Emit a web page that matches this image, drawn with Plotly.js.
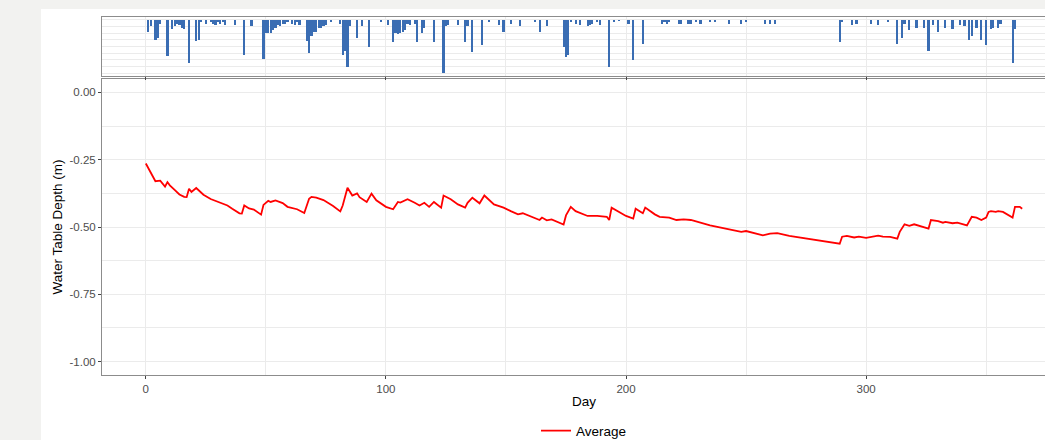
<!DOCTYPE html>
<html>
<head>
<meta charset="utf-8">
<script src="https://cdn.plot.ly/plotly-3.0.1.min.js"></script>
<style>
  html, body { margin: 0; padding: 0; width: 1045px; height: 440px; overflow: hidden; background: #f2f2f0; }
  #chart { position: absolute; left: 41px; top: 9px; width: 1040px; height: 470px; background: #ffffff; }
</style>
</head>
<body>
<div id="chart"></div>
<script>
// ---- Data ----
// Daily rainfall bars (top panel, hanging from the top)
const rainDays = [1,2,4,5,6,9,11,12,13,14,15,16,18,21,22,23,25,27,28,29,30,31,32,33,37,41,44,49,50,51,52,53,54,55,56,57,58,59,61,62,63,64,67,68,69,70,71,72,73,74,75,77,81,82,83,84,85,88,90,93,98,101,103,104,105,106,107,108,109,110,112,113,115,116,120,124,125,126,130,133,134,136,140,143,147,149,152,156,162,164,167,174,175,176,177,179,181,184,185,186,188,189,193,195,197,201,203,207,215,216,217,218,222,223,226,227,229,231,235,237,243,248,250,258,260,262,289,290,294,296,302,305,309,313,315,316,318,321,324,326,328,330,333,336,339,341,343,344,346,348,350,352,353,355,356,361,362];
const rainMm   = [9,5,15,14,3,27,7,5,3,4,6,7,32,16,15,2,3,2,3,4,2,3,2,4,4,26,5,29,10,10,10,8,6,4,5,3,3,2,3,4,2,4,16,25,12,9,9,6,6,5,4,2,3,26,23,35,5,14,5,20,2,4,17,10,11,10,9,8,3,4,3,17,10,6,17,40,5,4,4,17,5,24,19,2,4,9,3,5,2,9,5,20,28,26,2,3,4,5,4,3,2,4,35,2,1,3,30,18,3,2,3,2,3,3,3,3,2,3,2,2,3,3,2,3,3,3,17,2,4,3,3,4,2,18,14,3,8,6,6,23,4,9,6,7,4,5,15,12,6,15,19,7,6,6,3,32,7];

// Average water table depth (main panel)
const depthDays = [0,2,4,6,8,9,10,12,14,16,17,18,19,21,24,27,31,34,36,39,40,41,43,45,48,49,51,52,54,57,59,63,66,68,69,71,74,78,81,82,84,86,88,89,92,94,96,100,103,105,106,109,112,114,116,118,120,123,124,127,130,133,134,136,139,141,145,148,149,152,155,157,161,164,165,167,169,174,175,177,179,184,188,192,193,194,200,203,204,207,208,212,214,218,221,224,227,230,235,243,248,250,257,260,263,268,289,290,292,295,297,300,302,305,307,310,313,314,316,318,320,326,327,330,332,333,336,338,342,344,346,348,350,351,352,354,355,357,361,362,364,365];
const depthM   = [-0.264,-0.300,-0.330,-0.328,-0.350,-0.333,-0.345,-0.362,-0.379,-0.388,-0.389,-0.358,-0.370,-0.355,-0.380,-0.396,-0.409,-0.420,-0.432,-0.449,-0.450,-0.420,-0.431,-0.435,-0.454,-0.418,-0.403,-0.407,-0.401,-0.411,-0.425,-0.434,-0.448,-0.395,-0.388,-0.391,-0.400,-0.422,-0.442,-0.420,-0.354,-0.383,-0.375,-0.389,-0.407,-0.376,-0.401,-0.425,-0.434,-0.407,-0.409,-0.397,-0.410,-0.420,-0.410,-0.425,-0.407,-0.428,-0.383,-0.397,-0.416,-0.428,-0.410,-0.391,-0.412,-0.383,-0.416,-0.425,-0.428,-0.441,-0.453,-0.449,-0.463,-0.474,-0.465,-0.475,-0.472,-0.491,-0.457,-0.425,-0.441,-0.459,-0.459,-0.462,-0.474,-0.428,-0.459,-0.469,-0.432,-0.449,-0.428,-0.453,-0.462,-0.465,-0.474,-0.472,-0.474,-0.481,-0.494,-0.509,-0.518,-0.515,-0.531,-0.525,-0.523,-0.533,-0.562,-0.536,-0.533,-0.539,-0.536,-0.540,-0.537,-0.532,-0.536,-0.537,-0.543,-0.518,-0.490,-0.496,-0.490,-0.506,-0.474,-0.478,-0.484,-0.481,-0.486,-0.484,-0.494,-0.462,-0.465,-0.474,-0.465,-0.444,-0.441,-0.444,-0.441,-0.444,-0.465,-0.425,-0.425,-0.432];

// Tick labels
const xTickVals = [0, 100, 200, 300];
const yTickVals = [0, -0.25, -0.5, -0.75, -1];
const yTickText = ['0.00', '-0.25', '-0.50', '-0.75', '-1.00'];

// ---- Styling ----
const FONT = 'Liberation Sans, Arial, sans-serif';
const GRID = '#ebebeb';
const BORDER = '#8c8c8c';
const TICKTXT = 'rgb(77,77,77)';

const traces = [
  {
    type: 'bar', x: rainDays, y: rainMm, xaxis: 'x2', yaxis: 'y2',
    marker: { color: '#3a6db3', line: { width: 0 } }, width: 0.9,
    showlegend: false, hoverinfo: 'skip'
  },
  {
    type: 'scatter', mode: 'lines', x: depthDays, y: depthM,
    line: { color: '#ff0000', width: 1.8 }, name: 'Average'
  }
];

const xRange = [-18.25, 383.25];

const layout = {
  width: 1040, height: 470,
  margin: { l: 61, r: 15, t: 8, b: 104 },
  paper_bgcolor: '#ffffff', plot_bgcolor: '#ffffff',
  font: { family: FONT, color: '#000000' },
  bargap: 0,
  xaxis: {
    domain: [0, 1], anchor: 'y', range: xRange,
    tickvals: xTickVals, ticks: 'outside', ticklen: 3, tickwidth: 1, tickcolor: '#444',
    tickfont: { size: 11.5, color: TICKTXT, family: FONT },
    showgrid: true, gridcolor: GRID, gridwidth: 1,
    minor: { dtick: 50, tick0: 0, showgrid: true, gridcolor: GRID, gridwidth: 1, ticks: '' },
    zeroline: false, showline: true, mirror: true, linecolor: BORDER, linewidth: 1,
    title: { text: 'Day', font: { size: 13.5, color: '#000000', family: FONT }, standoff: 2 },
    automargin: false
  },
  yaxis: {
    domain: [0, 0.8268], anchor: 'x', range: [-1.05, 0.05],
    tickvals: yTickVals, ticktext: yTickText, ticks: 'outside', ticklen: 3, tickwidth: 1, tickcolor: '#444',
    tickfont: { size: 11.5, color: TICKTXT, family: FONT },
    showgrid: true, gridcolor: GRID, gridwidth: 1,
    minor: { dtick: 0.125, tick0: 0, showgrid: true, gridcolor: GRID, gridwidth: 1, ticks: '' },
    zeroline: false, showline: true, mirror: true, linecolor: BORDER, linewidth: 1,
    title: { text: 'Water Table Depth (m)', font: { size: 13.5, color: '#000000', family: FONT }, standoff: 3 },
    automargin: false
  },
  xaxis2: {
    domain: [0, 1], anchor: 'y2', range: xRange,
    tickvals: xTickVals, ticks: 'outside', ticklen: 3, tickwidth: 1, tickcolor: '#444',
    showticklabels: false,
    showgrid: true, gridcolor: GRID, gridwidth: 1,
    minor: { dtick: 50, tick0: 0, showgrid: true, gridcolor: GRID, gridwidth: 1, ticks: '' },
    zeroline: false, showline: true, mirror: true, linecolor: BORDER, linewidth: 1
  },
  yaxis2: {
    domain: [0.8352, 1], anchor: 'x2', range: [42, -2],
    dtick: 5, tick0: 0, showticklabels: false, ticks: '',
    showgrid: true, gridcolor: GRID, gridwidth: 1,
    zeroline: false, showline: true, mirror: true, linecolor: BORDER, linewidth: 1
  },
  showlegend: true,
  legend: {
    orientation: 'h', x: 0.5, xanchor: 'center', y: -0.156, yanchor: 'middle',
    font: { size: 13.5, color: '#000000', family: FONT }, itemwidth: 30,
    bgcolor: 'rgba(0,0,0,0)'
  }
};

Plotly.newPlot('chart', traces, layout, { displayModeBar: false, staticPlot: true });
</script>
</body>
</html>
